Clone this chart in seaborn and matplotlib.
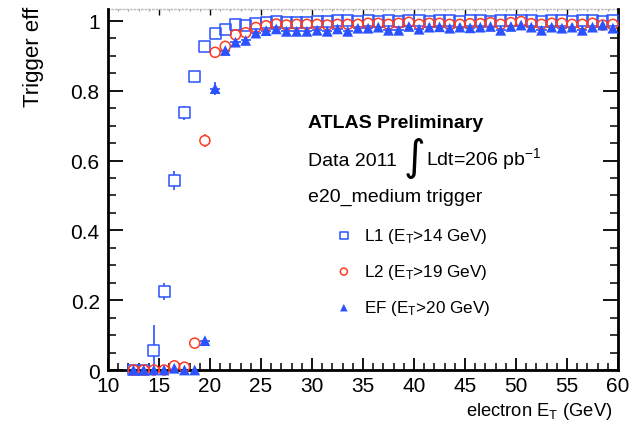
import matplotlib
matplotlib.use('Agg')
import matplotlib.pyplot as plt
from matplotlib.ticker import MultipleLocator, FixedLocator, FixedFormatter
import pandas as pd
import seaborn as sns

# --- Data ---
et_bins = [12.5, 13.5, 14.5, 15.5, 16.5, 17.5, 18.5, 19.5, 20.5, 21.5,
           22.5, 23.5, 24.5, 25.5, 26.5, 27.5, 28.5, 29.5, 30.5, 31.5,
           32.5, 33.5, 34.5, 35.5, 36.5, 37.5, 38.5, 39.5, 40.5, 41.5,
           42.5, 43.5, 44.5, 45.5, 46.5, 47.5, 48.5, 49.5, 50.5, 51.5,
           52.5, 53.5, 54.5, 55.5, 56.5, 57.5, 58.5, 59.5]

l1_eff = [0.0, 0.0, 0.057, 0.225, 0.543, 0.737, 0.840, 0.926, 0.964, 0.975,
          0.989, 0.986, 0.993, 0.995, 0.997, 0.996, 0.996, 0.996, 0.999, 0.999,
          1.0, 1.0, 0.999, 1.0, 0.999, 1.0, 0.999, 1.0, 1.0, 0.999,
          1.0, 1.0, 0.999, 1.0, 1.0, 0.999, 1.0, 1.0, 1.0, 1.0,
          0.999, 1.0, 1.0, 0.999, 1.0, 1.0, 0.999, 1.0]
l1_err_lo = [0.0, 0.0, 0.047, 0.025, 0.028, 0.02, 0.015, 0.008, 0.005, 0.004,
             0.003, 0.003, 0.002, 0.002, 0.002, 0.002, 0.002, 0.002, 0.001, 0.001,
             0.001, 0.001, 0.001, 0.001, 0.001, 0.001, 0.001, 0.001, 0.001, 0.001,
             0.001, 0.001, 0.001, 0.001, 0.001, 0.001, 0.001, 0.001, 0.001, 0.001,
             0.001, 0.001, 0.001, 0.001, 0.001, 0.001, 0.001, 0.001]
l1_err_hi = [0.004, 0.004, 0.073, 0.025, 0.028, 0.02, 0.015, 0.008, 0.005, 0.004,
             0.003, 0.003, 0.002, 0.002, 0.002, 0.002, 0.002, 0.002, 0.001, 0.001,
             0.0, 0.0, 0.001, 0.0, 0.001, 0.0, 0.001, 0.0, 0.0, 0.001,
             0.0, 0.0, 0.001, 0.0, 0.0, 0.001, 0.0, 0.0, 0.0, 0.0,
             0.001, 0.0, 0.0, 0.001, 0.0, 0.0, 0.001, 0.0]

l2_eff = [0.0, 0.0, 0.0, 0.0, 0.012, 0.008, 0.077, 0.657, 0.910, 0.927,
          0.960, 0.966, 0.981, 0.986, 0.991, 0.988, 0.990, 0.990, 0.990, 0.988,
          0.990, 0.990, 0.990, 0.993, 0.993, 0.990, 0.993, 0.996, 0.990, 0.993,
          0.993, 0.990, 0.990, 0.992, 0.992, 0.995, 0.990, 0.995, 0.998, 0.992,
          0.990, 0.993, 0.993, 0.990, 0.990, 0.993, 0.988, 0.990]
l2_err = [0.0, 0.0, 0.0, 0.0, 0.006, 0.005, 0.012, 0.018, 0.008, 0.006,
          0.004, 0.004, 0.003, 0.003, 0.002, 0.002, 0.002, 0.002, 0.002, 0.002,
          0.002, 0.002, 0.002, 0.002, 0.002, 0.002, 0.002, 0.002, 0.002, 0.002,
          0.002, 0.002, 0.002, 0.002, 0.002, 0.002, 0.002, 0.002, 0.002, 0.002,
          0.002, 0.002, 0.002, 0.002, 0.002, 0.002, 0.002, 0.002]

ef_eff = [0.0, 0.0, 0.0, 0.0, 0.005, 0.0, 0.0, 0.084, 0.806, 0.915,
          0.939, 0.944, 0.965, 0.972, 0.977, 0.970, 0.970, 0.970, 0.973, 0.970,
          0.977, 0.970, 0.979, 0.979, 0.982, 0.973, 0.973, 0.984, 0.976, 0.982,
          0.983, 0.979, 0.982, 0.980, 0.982, 0.984, 0.973, 0.984, 0.988, 0.982,
          0.973, 0.982, 0.979, 0.982, 0.973, 0.982, 0.988, 0.979]
ef_err = [0.0, 0.0, 0.0, 0.0, 0.004, 0.0, 0.0, 0.01, 0.018, 0.008,
          0.006, 0.005, 0.004, 0.004, 0.003, 0.003, 0.003, 0.003, 0.003, 0.003,
          0.003, 0.003, 0.003, 0.003, 0.003, 0.003, 0.003, 0.003, 0.003, 0.003,
          0.003, 0.003, 0.003, 0.003, 0.003, 0.003, 0.003, 0.003, 0.003, 0.003,
          0.003, 0.003, 0.003, 0.003, 0.003, 0.003, 0.003, 0.003]

x_ticks = [10, 15, 20, 25, 30, 35, 40, 45, 50, 55, 60]
y_ticks = [0, 0.2, 0.4, 0.6, 0.8, 1.0]
y_tick_labels = ['0', '0.2', '0.4', '0.6', '0.8', '1']

series_labels = ['L1 ($\\mathregular{E_T}$>14 GeV)',
                 'L2 ($\\mathregular{E_T}$>19 GeV)',
                 'EF ($\\mathregular{E_T}$>20 GeV)']

BLUE = '#2a52ff'
RED = '#ff3b22'

# --- Long-form table for seaborn ---
df = pd.concat([
    pd.DataFrame({'et': et_bins, 'eff': l1_eff, 'trigger': 'L1'}),
    pd.DataFrame({'et': et_bins, 'eff': l2_eff, 'trigger': 'L2'}),
    pd.DataFrame({'et': et_bins, 'eff': ef_eff, 'trigger': 'EF'}),
], ignore_index=True)

sns.set_theme(style='ticks')
plt.rcParams['font.family'] = ['Liberation Sans', 'DejaVu Sans']
plt.rcParams['mathtext.fontset'] = 'custom'
plt.rcParams['mathtext.rm'] = 'Liberation Sans'
plt.rcParams['text.color'] = 'black'
plt.rcParams['axes.labelcolor'] = 'black'

fig = plt.figure(figsize=(6.33, 4.31), dpi=100)
ax = fig.add_axes([0.1706, 0.1392, 0.8057, 0.8376])

# error bars (x error = half bin width)
ax.errorbar(et_bins, l1_eff, yerr=[l1_err_lo, l1_err_hi], xerr=0.5, fmt='none',
            ecolor=BLUE, elinewidth=1.2, capsize=0, zorder=2, clip_on=False)
ax.errorbar(et_bins, l2_eff, yerr=l2_err, xerr=0.5, fmt='none',
            ecolor=RED, elinewidth=1.2, capsize=0, zorder=2, clip_on=False)
ax.errorbar(et_bins, ef_eff, yerr=ef_err, xerr=0.5, fmt='none',
            ecolor=BLUE, elinewidth=1.2, capsize=0, zorder=2, clip_on=False)

sub = {k: df[df.trigger == k] for k in ['L1', 'L2', 'EF']}

# white masks so the bars don't show inside the open markers
sns.scatterplot(data=sub['L1'], x='et', y='eff', marker='s', s=62, color='white',
                edgecolor='none', linewidth=0, ax=ax, zorder=2.5, legend=False, clip_on=False)
sns.scatterplot(data=sub['L2'], x='et', y='eff', marker='o', s=52, color='white',
                edgecolor='none', linewidth=0, ax=ax, zorder=2.5, legend=False, clip_on=False)

sns.scatterplot(data=sub['L1'], x='et', y='eff', marker='s', s=62, facecolor='none',
                edgecolor=BLUE, linewidth=1.1, ax=ax, zorder=3, clip_on=False,
                label=series_labels[0])
sns.scatterplot(data=sub['L2'], x='et', y='eff', marker='o', s=52, facecolor='none',
                edgecolor=RED, linewidth=1.1, ax=ax, zorder=3, clip_on=False,
                label=series_labels[1])
sns.scatterplot(data=sub['EF'], x='et', y='eff', marker='^', s=60, color=BLUE,
                edgecolor='none', linewidth=0, ax=ax, zorder=3, clip_on=False,
                label=series_labels[2])

# --- axes styling (ROOT look) ---
ax.set_xlim(10, 60)
ax.set_ylim(0, 1.034)
ax.xaxis.set_major_locator(FixedLocator(x_ticks))
ax.xaxis.set_minor_locator(MultipleLocator(1))
ax.yaxis.set_major_locator(FixedLocator(y_ticks))
ax.yaxis.set_major_formatter(FixedFormatter(y_tick_labels))
ax.yaxis.set_minor_locator(MultipleLocator(0.05))

for side in ['left', 'bottom', 'right']:
    ax.spines[side].set_linewidth(2.0)
    ax.spines[side].set_color('black')
ax.spines['top'].set_visible(False)

ax.tick_params(axis='both', which='both', direction='in', colors='black', labelsize=15)
ax.tick_params(axis='y', which='major', length=11, width=1.3, left=True, right=True, pad=6)
ax.tick_params(axis='y', which='minor', length=6, width=1.1, left=True, right=True)
ax.tick_params(axis='x', which='major', length=9, width=1.3, bottom=True, top=False, pad=4)
ax.tick_params(axis='x', which='minor', length=5, width=1.1, bottom=True, top=False)

top = ax.secondary_xaxis('top')
top.xaxis.set_major_locator(FixedLocator(x_ticks))
top.xaxis.set_minor_locator(MultipleLocator(1))
top.tick_params(axis='x', which='major', direction='in', length=4, width=1.0,
                colors='black', labeltop=False)
top.tick_params(axis='x', which='minor', direction='in', length=1.5, width=0.8,
                colors='#999999')
top.spines['top'].set_linestyle(':')
top.spines['top'].set_color('#bbbbbb')
top.spines['top'].set_linewidth(1.0)

ax.set_xlabel('electron $\\mathregular{E_T}$ (GeV)', fontsize=13.2, loc='right')
ax.xaxis.set_label_coords(0.988, -0.083)
ax.set_ylabel('Trigger eff', fontsize=16, loc='top')
ax.yaxis.set_label_coords(-0.126, 1.008)

# --- annotation block ---
fig.text(308 / 633, 1 - 128 / 431, 'ATLAS Preliminary', fontsize=14,
         fontweight='bold', ha='left', va='baseline')
fig.text(308 / 633, 1 - 166 / 431, 'Data 2011', fontsize=14, ha='left', va='baseline')
fig.text(414 / 633, 1 - 158 / 431, '\u222b', fontsize=30, ha='center', va='center',
         family='DejaVu Sans')
fig.text(426 / 633, 1 - 166 / 431, 'Ldt=206 pb$^{\\mathregular{-1}}$', fontsize=14,
         ha='left', va='baseline')
fig.text(308 / 633, 1 - 202 / 431, 'e20_medium trigger', fontsize=14,
         ha='left', va='baseline')

handles, labels = ax.get_legend_handles_labels()
ax.legend(handles, labels, loc='upper left',
          bbox_to_anchor=(337 / 633, 1 - 227 / 431), bbox_transform=fig.transFigure,
          frameon=False, fontsize=12.3, markerscale=0.7, handlelength=0.8,
          handletextpad=0.8, labelspacing=1.0, borderpad=0, borderaxespad=0)

fig.savefig('out.png', dpi=100)
